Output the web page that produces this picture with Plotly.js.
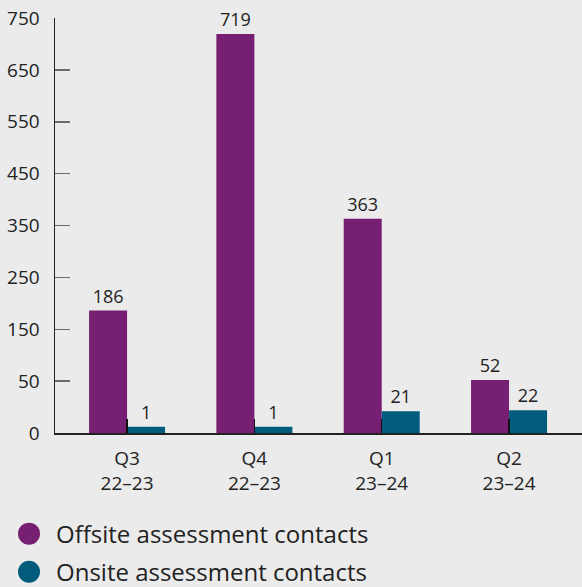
<!DOCTYPE html>
<html>
<head>
<meta charset="utf-8">
<script src="https://cdn.plot.ly/plotly-3.0.1.min.js"></script>
<style>
  html, body { margin: 0; padding: 0; background: #ebebeb; }
  #chart { width: 582px; height: 587px; }
</style>
</head>
<body>
<div id="chart"></div>
<script>
// ---- data ----
const quarters = ["Q3<br>22–23", "Q4<br>22–23", "Q1<br>23–24", "Q2<br>23–24"];
const seriesNames = ["Offsite assessment contacts", "Onsite assessment contacts"];
const offsite = [186, 719, 363, 52];
const onsite = [1, 1, 21, 22];
const yTickLabels = ["0", "50", "150", "250", "350", "450", "550", "650", "750"];
const colors = ["#771f72", "#005b7d"];

// The source chart uses a non-linear value axis: 0→50 spans one tick step,
// every later step spans 100. Map values onto that tick-step scale.
const MIN_VISIBLE = 0.12;
function toAxis(v) {
  const p = v <= 50 ? v / 50 : 1 + (v - 50) / 100;
  return Math.max(p, MIN_VISIBLE);
}

const FONT = "Open Sans, Noto Sans, sans-serif";
const TXT = "#222222";

const traces = [offsite, onsite].map((vals, i) => ({
  type: "bar",
  name: seriesNames[i],
  x: quarters,
  y: vals.map(toAxis),
  text: vals.map(String),
  textposition: "outside",
  cliponaxis: false,
  textfont: { family: FONT, size: 18, color: TXT },
  marker: { color: colors[i], line: { width: 0 } },
  showlegend: false,
  hoverinfo: "skip"
}));

// custom legend (large circular swatches)
const legendY = [-0.2425, -0.3345];
const shapes = [];
const annotations = [];
seriesNames.forEach((name, i) => {
  shapes.push({
    type: "circle", xref: "paper", yref: "paper",
    xsizemode: "pixel", ysizemode: "pixel",
    xanchor: -0.0493, yanchor: legendY[i],
    x0: -11, x1: 11, y0: -11, y1: 11,
    fillcolor: colors[i], line: { width: 0 }
  });
  annotations.push({
    xref: "paper", yref: "paper",
    x: -0.0019, y: legendY[i],
    xanchor: "left", yanchor: "middle",
    text: name, showarrow: false,
    font: { family: FONT, size: 24, color: TXT }
  });
});

const layout = {
  width: 582, height: 587,
  margin: { l: 55, r: 0, t: 18, b: 154 },
  paper_bgcolor: "#ebebeb",
  plot_bgcolor: "#ebebeb",
  font: { family: FONT, size: 19, color: TXT },
  barmode: "group",
  bargap: 0.403,
  bargroupgap: 0,
  showlegend: false,
  xaxis: {
    type: "category",
    range: [-0.566, 3.573],
    showgrid: false, zeroline: false,
    showline: true, linecolor: "#222222", linewidth: 1.5,
    ticks: "inside", ticklen: 14, tickwidth: 1.5, tickcolor: "#111111",
    tickfont: { family: FONT, size: 19, color: TXT },
    ticklabelstandoff: 8
  },
  yaxis: {
    range: [0, 8],
    tickvals: yTickLabels.map((_, i) => i),
    ticktext: yTickLabels,
    showgrid: false, zeroline: false,
    showline: true, linecolor: "#222222", linewidth: 1.5,
    ticks: "inside", ticklen: 15, tickwidth: 1.5, tickcolor: "#6b6b6b",
    tickfont: { family: FONT, size: 19, color: TXT },
    ticklabelstandoff: 10
  },
  shapes: shapes,
  annotations: annotations
};

Plotly.newPlot("chart", traces, layout, { displayModeBar: false, staticPlot: true });
</script>
</body>
</html>
